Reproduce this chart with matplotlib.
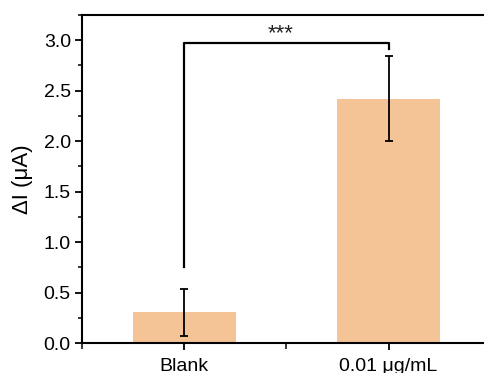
import matplotlib
matplotlib.use("Agg")
import matplotlib.pyplot as plt
from matplotlib.ticker import MultipleLocator

plt.rcParams['font.family'] = ['Liberation Sans', 'DejaVu Sans']

categories = ["Blank", "0.01 μg/mL"]
values = [0.305, 2.42]
errors = [0.235, 0.42]
bracket_left = 0.75
bracket_right = 2.91
bracket_top = 2.975
stars = "***"

fig = plt.figure(figsize=(4.85, 3.73), dpi=100)
ax = fig.add_axes([0.169, 0.0804, 0.843, 0.8794])

x = list(range(len(categories)))
ax.bar(x, values, width=0.505, color="#F4C396", zorder=1)
ax.errorbar(x, values, yerr=errors, fmt="none", ecolor="black",
            elinewidth=1.3, capsize=2.8, capthick=1.3, zorder=3)

# significance bracket
ax.plot([x[0], x[0], x[1], x[1]],
        [bracket_left, bracket_top, bracket_top, bracket_right],
        color="black", lw=1.6, zorder=4)
ax.text(0.47, 3.01, stars, ha="center", va="baseline", fontsize=16,
        color="#222222")

ax.set_xlim(-0.5, 1.5)
ax.set_ylim(0, 3.25)
ax.set_xticks(x)
ax.set_xticklabels(categories)
ax.xaxis.set_minor_locator(MultipleLocator(0.5))
ax.yaxis.set_major_locator(MultipleLocator(0.5))
ax.yaxis.set_minor_locator(MultipleLocator(0.25))
ax.yaxis.set_major_formatter(matplotlib.ticker.FormatStrFormatter("%.1f"))
ax.set_ylabel("ΔI (μA)", fontsize=16)
ax.yaxis.set_label_coords(-0.12, 0.5)

ax.tick_params(which="major", direction="out", length=5, width=1.3,
               labelsize=14, pad=3)
ax.tick_params(axis="x", which="major", pad=5.5)
ax.tick_params(which="minor", direction="out", length=3, width=1.1)
ax.tick_params(axis="x", which="minor", length=4)
for s in ax.spines.values():
    s.set_linewidth(1.5)

fig.savefig("out.png", dpi=100)
